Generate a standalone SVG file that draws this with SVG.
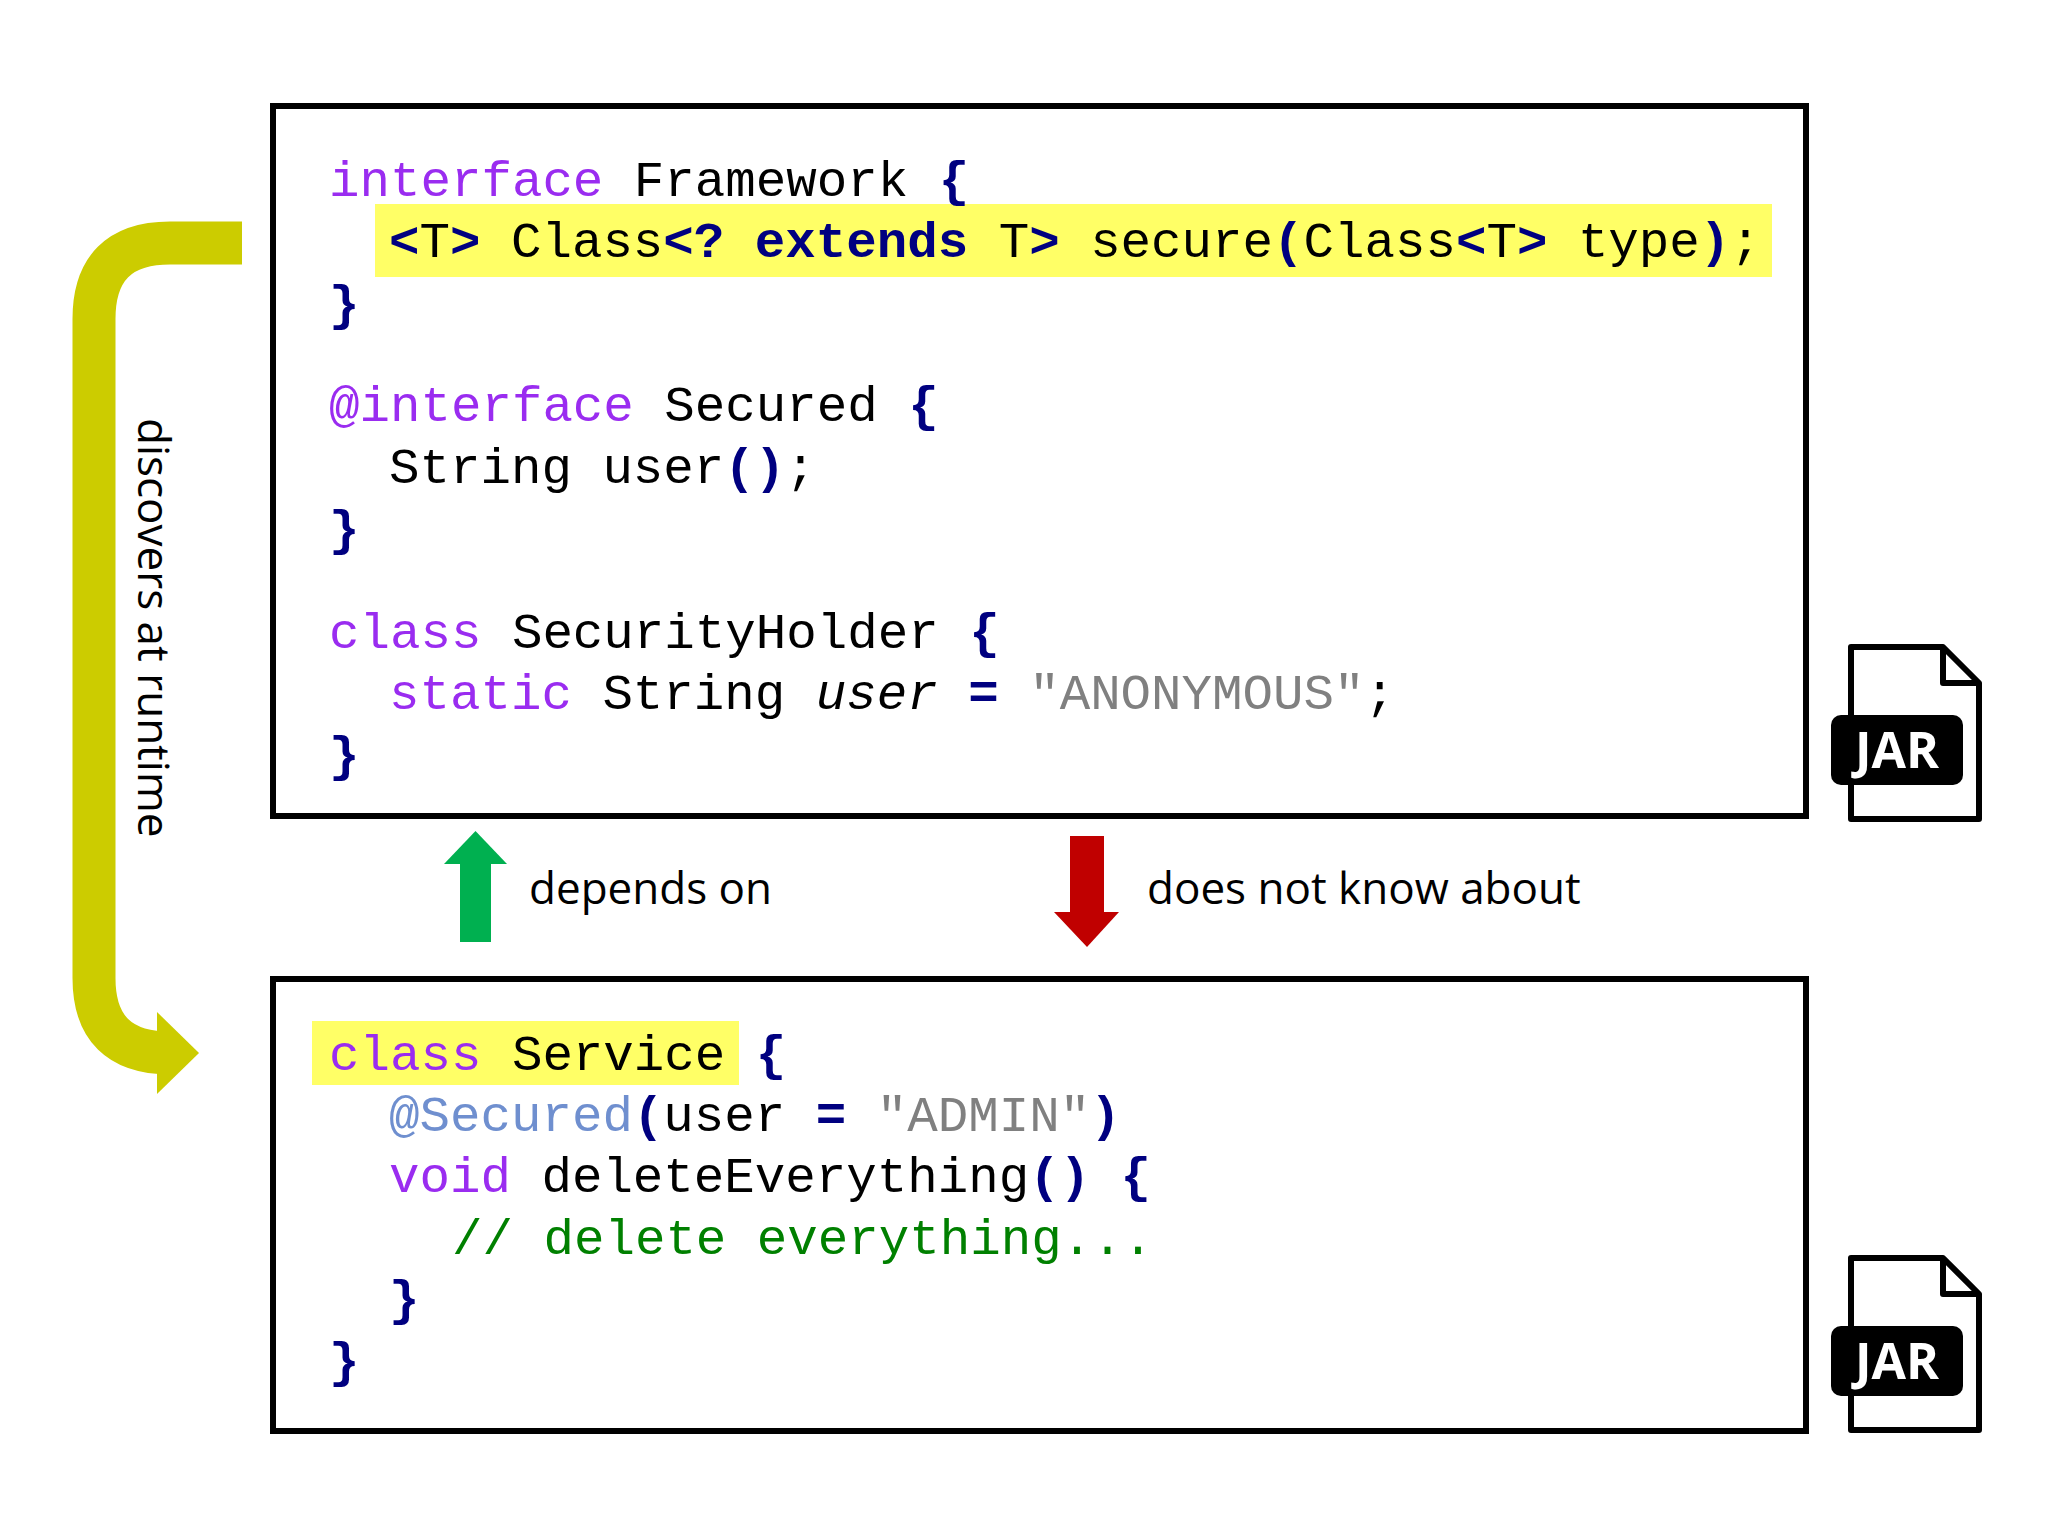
<svg xmlns="http://www.w3.org/2000/svg" width="2048" height="1536" viewBox="0 0 2048 1536">
<style>
.c{font-family:"Liberation Mono",monospace;font-size:50.8px;fill:#000;white-space:pre}
.k{fill:#9a2cf0}.b{fill:#000080;font-weight:bold}.s{fill:#808080}.g{fill:#008000}.a{fill:#6f8fcf}
.t{font-family:"Open Sans","Noto Sans",sans-serif;font-size:44px;fill:#000}
.box{fill:#fff;stroke:#000;stroke-width:6}
.jl{font-family:"Open Sans","Noto Sans",sans-serif;font-weight:bold;font-size:50px;fill:#fff}
</style>
<defs>
<g id="jar">
<path d="M20,4 H112 L148,40 V176 H20 Z" fill="#fff" stroke="#000" stroke-width="6" stroke-linejoin="round"/>
<path d="M112,4 V40 H148" fill="none" stroke="#000" stroke-width="6" stroke-linejoin="round"/>
<rect x="0" y="72" width="132" height="70" rx="10" fill="#000"/>
<text x="66" y="125" text-anchor="middle" class="jl">JAR</text>
</g>
</defs>
<rect width="2048" height="1536" fill="#fff"/>
<g id="connectors">
<path d="M242,243 H170 Q94,243 94,319 V978 Q94,1053 170,1053 H160" fill="none" stroke="#cccc00" stroke-width="43"/>
<polygon points="157,1012 199,1053 157,1094" fill="#cccc00"/>
<text class="t" transform="translate(138,418) rotate(90)">discovers at runtime</text>
<rect x="460" y="860" width="31" height="82" fill="#00b050"/>
<polygon points="444,864 475.5,831 507,864" fill="#00b050"/>
<text class="t" x="529" y="904">depends on</text>
<rect x="1070" y="836" width="34" height="78" fill="#c00000"/>
<polygon points="1054,912 1087,947 1119,912" fill="#c00000"/>
<text class="t" x="1147" y="904">does not know about</text>
</g>
<g id="framework">
<rect class="box" x="273" y="106" width="1533" height="710"/>
<rect x="375" y="204" width="1397" height="73" fill="#ffff66"/>
<text class="c" x="329" y="196"><tspan class="k">interface</tspan> Framework <tspan class="b">{</tspan></text>
<text class="c" x="389" y="257"><tspan class="b">&lt;</tspan>T<tspan class="b">&gt;</tspan> Class<tspan class="b">&lt;?</tspan> <tspan class="b">extends</tspan> T<tspan class="b">&gt;</tspan> secure<tspan class="b">(</tspan>Class<tspan class="b">&lt;</tspan>T<tspan class="b">&gt;</tspan> type<tspan class="b">)</tspan>;</text>
<text class="c b" x="329" y="320">}</text>
<text class="c" x="329" y="421"><tspan class="k">@interface</tspan> Secured <tspan class="b">{</tspan></text>
<text class="c" x="389" y="483">String user<tspan class="b">()</tspan>;</text>
<text class="c b" x="329" y="545">}</text>
<text class="c" x="329" y="648"><tspan class="k">class</tspan> SecurityHolder <tspan class="b">{</tspan></text>
<text class="c" x="389" y="709"><tspan class="k">static</tspan> String <tspan font-style="italic">user</tspan> <tspan class="b">=</tspan> <tspan class="s">"ANONYMOUS"</tspan>;</text>
<text class="c b" x="329" y="771">}</text>
</g>
<g id="service">
<rect class="box" x="273" y="979" width="1533" height="452"/>
<rect x="312" y="1021" width="427" height="64" fill="#ffff66"/>
<text class="c" x="329" y="1070"><tspan class="k">class</tspan> Service <tspan class="b">{</tspan></text>
<text class="c" x="389" y="1131"><tspan class="a">@Secured</tspan><tspan class="b">(</tspan>user <tspan class="b">=</tspan> <tspan class="s">"ADMIN"</tspan><tspan class="b">)</tspan></text>
<text class="c" x="389" y="1192"><tspan class="k">void</tspan> deleteEverything<tspan class="b">()</tspan> <tspan class="b">{</tspan></text>
<text class="c g" x="452" y="1254">// delete everything...</text>
<text class="c b" x="389" y="1315">}</text>
<text class="c b" x="329" y="1377">}</text>
</g>
<g id="jar1"><use href="#jar" x="1831" y="643"/></g>
<g id="jar2"><use href="#jar" x="1831" y="1254"/></g>
</svg>
